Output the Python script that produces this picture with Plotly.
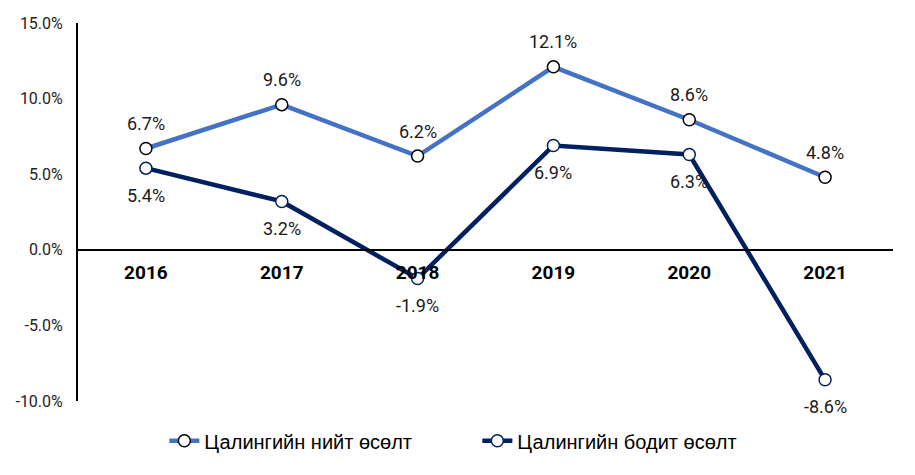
import plotly.graph_objects as go

years = ["2016", "2017", "2018", "2019", "2020", "2021"]
nominal = [6.7, 9.6, 6.2, 12.1, 8.6, 4.8]
real = [5.4, 3.2, -1.9, 6.9, 6.3, -8.6]
y_ticks = [-10, -5, 0, 5, 10, 15]
y_labels = [f"{v:.1f}%" for v in y_ticks]

label_font = dict(family="Roboto", size=18, color="#1a1a1a")

fig = go.Figure()

fig.add_trace(go.Scatter(
    x=years, y=nominal, name="Цалингийн нийт өсөлт",
    mode="lines+markers",
    line=dict(color="#4472C4", width=4.5),
    marker=dict(size=12, color="white", line=dict(color="black", width=1.5)),
    cliponaxis=False,
))

fig.add_trace(go.Scatter(
    x=years, y=real, name="Цалингийн бодит өсөлт",
    mode="lines+markers",
    line=dict(color="#002060", width=4.5),
    marker=dict(size=12, color="white", line=dict(color="#002060", width=1.5)),
    cliponaxis=False,
))

# NOTE: data labels, nominal above the points, real below
# (category index used for x, "2016" as a string gets read as a number)
for i, v in enumerate(nominal):
    fig.add_annotation(x=i, y=v, text=f"{v:.1f}%", showarrow=False,
                       yshift=25, font=label_font)
for i, v in enumerate(real):
    fig.add_annotation(x=i, y=v, text=f"{v:.1f}%", showarrow=False,
                       yshift=-27, font=label_font)

fig.update_layout(
    width=915, height=475,
    margin=dict(l=78, r=22, t=23, b=74),
    plot_bgcolor="white", paper_bgcolor="white",
    font=dict(family="Roboto", color="#222222"),
    legend=dict(orientation="h", x=0.49, xanchor="center", y=-0.105,
                yanchor="middle", entrywidth=268, entrywidthmode="pixels",
                font=dict(family="Liberation Sans", size=20, color="black")),
)

# NOTE: x axis sits on the zero line, years in bold under it
fig.update_xaxes(
    type="category", range=[-0.5, 5.5],
    anchor="free", position=0.4,
    showline=True, linecolor="black", linewidth=2,
    showgrid=False, ticks="outside", ticklen=0,
    ticklabelstandoff=5,
    tickfont=dict(family="Roboto", size=19, color="black", weight="bold"),
)

fig.update_yaxes(
    range=[-10, 15], tickvals=y_ticks, ticktext=y_labels,
    showline=True, linecolor="black", linewidth=2,
    showgrid=False, zeroline=False,
    ticks="outside", ticklen=0, ticklabelstandoff=10,
    tickfont=dict(family="Roboto", size=16, color="#222222"),
)

fig.write_html("out.html", config={"displayModeBar": False},
               post_script="document.body.style.margin='0';")
